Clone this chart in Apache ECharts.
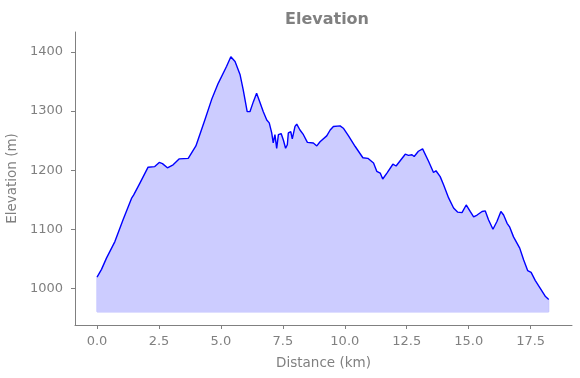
<!DOCTYPE html>
<html>
<head>
<meta charset="utf-8">
<script src="https://cdn.jsdelivr.net/npm/echarts@6/dist/echarts.min.js"></script>
<style>html,body{margin:0;padding:0;background:#fff}#c{width:580px;height:378px}</style>
</head>
<body>
<div id="c"></div>
<script>
const distanceKm = [0.00,0.18,0.38,0.72,1.05,1.39,1.48,1.73,2.06,2.33,2.51,2.64,2.84,3.07,3.31,3.68,3.99,4.35,4.62,4.89,5.23,5.40,5.57,5.77,5.90,6.06,6.17,6.31,6.44,6.51,6.58,6.71,6.85,6.95,7.05,7.11,7.18,7.25,7.32,7.43,7.52,7.61,7.68,7.72,7.82,7.88,7.99,8.06,8.19,8.33,8.49,8.73,8.87,9.00,9.27,9.41,9.54,9.81,9.94,10.15,10.42,10.73,10.93,11.16,11.29,11.43,11.53,11.70,11.94,12.07,12.44,12.57,12.71,12.80,12.97,13.14,13.20,13.38,13.58,13.68,13.85,13.99,14.19,14.39,14.55,14.73,14.79,14.90,14.96,15.06,15.20,15.34,15.54,15.67,15.80,15.98,16.14,16.30,16.41,16.55,16.65,16.81,17.06,17.22,17.38,17.52,17.69,17.89,18.10,18.23];
const elevationM = [1019,1032,1051,1079,1116,1152,1158,1178,1205,1206,1213,1211,1204,1209,1219,1220,1241,1285,1319,1347,1376,1392,1384,1362,1336,1299,1299,1316,1330,1328,1314,1299,1285,1280,1263,1246,1260,1237,1260,1262,1251,1237,1243,1263,1265,1253,1274,1278,1268,1260,1247,1246,1241,1248,1258,1268,1274,1275,1271,1258,1240,1221,1220,1212,1198,1195,1185,1195,1210,1207,1227,1225,1226,1223,1232,1236,1234,1215,1196,1199,1189,1175,1153,1136,1129,1128,1125,1141,1141,1130,1121,1124,1130,1131,1116,1100,1113,1130,1124,1110,1104,1087,1068,1048,1030,1027,1013,1000,986,981];
const xTicks = [0,2.5,5,7.5,10,12.5,15,17.5];
const yTicks = [1000,1100,1200,1300,1400];
const fillBase = 960;

const line = distanceKm.map((d,i)=>[d,elevationM[i]]);
const n = distanceKm.length;
const edge = [[distanceKm[0],elevationM[0]],[distanceKm[0],fillBase],[distanceKm[n-1],fillBase],[distanceKm[n-1],elevationM[n-1]]];

const gray = '#808080';
const font = 'DejaVu Sans';
const chart = echarts.init(document.getElementById('c'), null, {renderer:'canvas'});
chart.setOption({
  animation:false,
  title:{text:'Elevation',left:322,top:7,textAlign:'center',
    textStyle:{fontFamily:font,fontSize:16,fontWeight:'bold',color:gray}},
  grid:{left:75,right:8,top:32,bottom:53,containLabel:false,outerBoundsMode:'none'},
  xAxis:{type:'value',min:-0.89,max:19.17,
    name:'Distance (km)',nameLocation:'middle',nameGap:31,
    nameTextStyle:{fontFamily:font,fontSize:13.5,color:gray},
    axisLine:{show:true,onZero:false,lineStyle:{color:gray,width:1}},
    axisTick:{show:true,length:4,lineStyle:{color:gray},customValues:xTicks},
    axisLabel:{fontFamily:font,fontSize:13,color:gray,margin:10,customValues:xTicks,formatter:v=>v.toFixed(1)},
    splitLine:{show:false}},
  yAxis:{type:'value',min:937.8,max:1433.9,
    name:'Elevation (m)',nameLocation:'middle',nameGap:48,
    nameTextStyle:{fontFamily:font,fontSize:13.5,color:gray},
    axisLine:{show:true,onZero:false,lineStyle:{color:gray,width:1}},
    axisTick:{show:true,length:4,lineStyle:{color:gray},customValues:yTicks},
    axisLabel:{fontFamily:font,fontSize:13,color:gray,margin:12,customValues:yTicks,formatter:v=>String(v)},
    splitLine:{show:false}},
  series:[
    {type:'line',data:line,showSymbol:false,symbol:'none',
     lineStyle:{color:'#0000ff',width:1.4},
     areaStyle:{origin:fillBase,color:'#ccccff',opacity:1},z:3},
    {type:'line',data:edge,showSymbol:false,symbol:'none',
     lineStyle:{color:'#aaaaff',width:1},z:2}
  ]
});
</script>
</body>
</html>
